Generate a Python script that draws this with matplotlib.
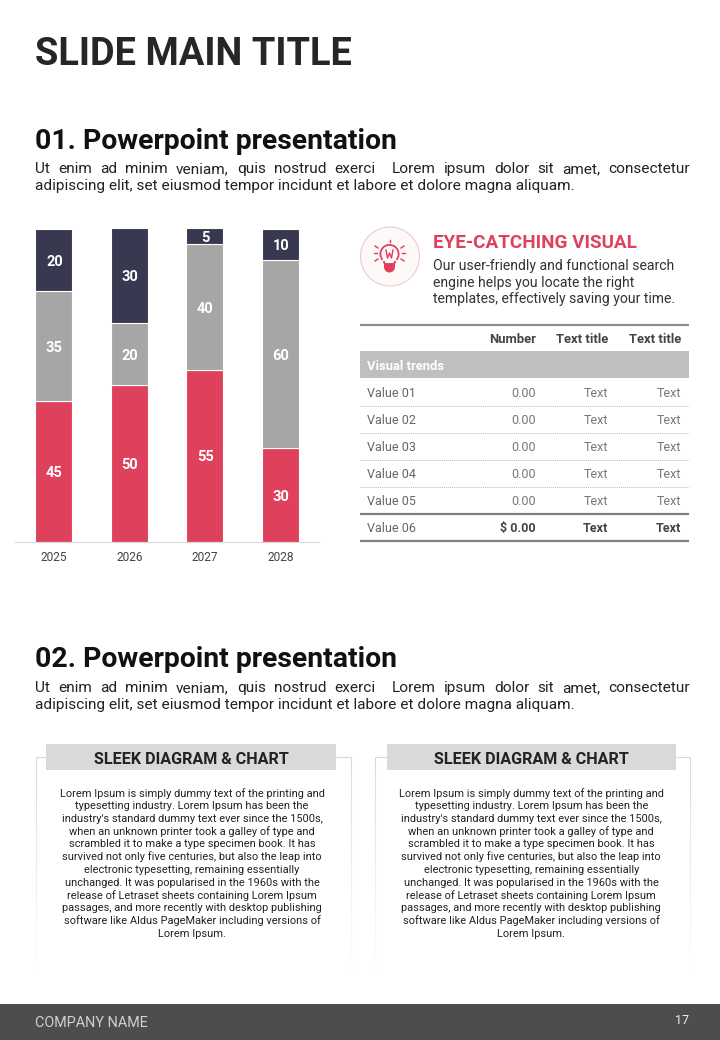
import numpy as np
import matplotlib
matplotlib.use("Agg")
import matplotlib.pyplot as plt
from matplotlib.patches import Rectangle, Circle, Wedge
from matplotlib.collections import LineCollection

plt.rcParams['font.family'] = ['Roboto', 'DejaVu Sans']

years = ['2025', '2026', '2027', '2028']
red_values = [45, 50, 55, 30]
gray_values = [35, 20, 40, 60]
navy_values = [20, 30, 5, 10]
RED, GRAY, NAVY = '#DF415C', '#A6A6A6', '#383950'
DARK = '#222222'

heading = '01. Powerpoint presentation'
heading2 = '02. Powerpoint presentation'
para_lines = ['Ut enim ad minim veniam, quis nostrud exerci  Lorem ipsum dolor sit amet, consectetur',
              'adipiscing elit, set eiusmod tempor incidunt et labore et dolore magna aliquam.']
callout_lines = ['Our user-friendly and functional search', 'engine helps you locate the right',
                 'templates, effectively saving your time.']
table_cols = ['Number', 'Text title', 'Text title']
table_rows = [['Value 01', '0.00', 'Text', 'Text'], ['Value 02', '0.00', 'Text', 'Text'],
              ['Value 03', '0.00', 'Text', 'Text'], ['Value 04', '0.00', 'Text', 'Text'],
              ['Value 05', '0.00', 'Text', 'Text'], ['Value 06', '$ 0.00', 'Text', 'Text']]
lorem_lines = ["Lorem Ipsum is simply dummy text of the printing and",
               "typesetting industry. Lorem Ipsum has been the",
               "industry's standard dummy text ever since the 1500s,",
               "when an unknown printer took a galley of type and",
               "scrambled it to make a type specimen book. It has",
               "survived not only five centuries, but also the leap into",
               "electronic typesetting, remaining essentially",
               "unchanged. It was popularised in the 1960s with the",
               "release of Letraset sheets containing Lorem Ipsum",
               "passages, and more recently with desktop publishing",
               "software like Aldus PageMaker including versions of",
               "Lorem Ipsum."]

W, H = 720, 1040
fig = plt.figure(figsize=(7.2, 10.4), dpi=100, facecolor='white')
bg = fig.add_axes([0, 0, 1, 1])
bg.set_xlim(0, W); bg.set_ylim(H, 0); bg.axis('off')


def T(x, y, s, size, color=DARK, weight='normal', ha='left', va='center'):
    return bg.text(x, y + size * 0.1, s, fontsize=size, color=color, fontweight=weight, ha=ha, va=va)


def justify(x0, x1, y, line, size, color=DARK):
    r = fig.canvas.get_renderer()
    parts = line.split(' ')
    words = [p for p in parts if p]
    arts = [T(0, y, w, size, color) for w in words]
    widths = [a.get_window_extent(r).width for a in arts]
    gap = (x1 - x0 - sum(widths)) / (len(parts) - 1)
    x = x0
    idx = 0
    for p in parts:
        if p:
            arts[idx].set_x(x)
            x += widths[idx]
            idx += 1
        x += gap


def hline(x0, x1, y, **kw):
    bg.plot([x0, x1], [y, y], solid_capstyle='butt', dash_capstyle='butt', **kw)


# Titles and paragraphs
T(35, 52, 'SLIDE MAIN TITLE', 27.4, '#262626', 'bold')
for hy, text, py in [(139, heading, 168), (657, heading2, 687)]:
    T(35, hy, text, 20.4, '#111111', 'bold')
    justify(35, 690, py, para_lines[0], 11.05)
    T(35, py + 17, para_lines[1], 11.05)

# Stacked bar chart
ax = fig.add_axes([15.4 / W, 1 - 542 / H, 303.6 / W, 313.5 / H])
x = np.arange(len(years))
red, gray, navy = map(np.array, (red_values, gray_values, navy_values))
for vals, bottom, col in [(red, 0 * red, RED), (gray, red, GRAY), (navy, red + gray, NAVY)]:
    ax.bar(x, vals, 0.49, bottom=bottom, color=col, edgecolor='white', linewidth=0.8)
    for xi, v, b in zip(x, vals, bottom):
        ax.annotate(str(v), (xi, b + v / 2), xytext=(0.3, -1.2), textcoords='offset points',
                    ha='center', va='center', color='white', fontsize=10.5, fontweight='bold')
ax.set_xlim(-0.511, 3.511)
ax.set_ylim(0, 100)
ax.set_xticks(x, years)
ax.set_yticks([])
ax.tick_params(axis='x', length=0, pad=6.2, labelsize=8.6, labelcolor='#444444')
for s in ['top', 'left', 'right']:
    ax.spines[s].set_visible(False)
ax.spines['bottom'].set_color('#D9D9D9')
ax.patch.set_alpha(0)

# Callout icon
bg.add_patch(Circle((390, 256.5), 29.5, fc='#FEF9F9', ec='#F2C8CE', lw=0.8))
bg.add_patch(Wedge((389.5, 254), 10, 140, 40, width=1.8, fc=RED, ec='none'))
bg.add_patch(Rectangle((384, 264), 11, 3, fc=RED, ec='none'))
bg.add_patch(Wedge((389.5, 267), 5.5, 0, 180, fc=RED, ec='none'))
bg.plot([386, 387.5, 389.5, 391.5, 393], [250, 258, 253, 258, 250], color=RED, lw=1)
bg.plot([384, 385, 394, 395], [262, 264, 264, 262], color=RED, lw=1.4)
for (xa, ya, xb, yb) in [(374, 253, 377, 253), (402, 253, 405, 253), (375, 246, 378, 248),
                         (404, 246, 401, 248), (375, 261, 378, 259), (404, 261, 401, 259),
                         (389.5, 240, 389.5, 242)]:
    bg.plot([xa, xb], [ya, yb], color=RED, lw=1)

T(433, 241.5, 'EYE-CATCHING VISUAL', 13.6, RED, 'bold')
for yy, line in zip([265, 281.5, 298], callout_lines):
    T(433, yy, line, 10.1, '#333333')

# Table
L, R = 360, 689
hline(L, R, 324.5, color='#8C8C8C', lw=1.6)
col_x = [536, 608, 681]
for cx, c in zip(col_x, table_cols):
    T(cx, 338.5, c, 9.4, '#444444', 'bold', ha='right')
bg.add_patch(Rectangle((L, 351), R - L, 27, fc='#BFBFBF', ec='none'))
T(367, 365.5, 'Visual trends', 9.4, 'white', 'bold')
row_y = [392.5, 419.5, 446.5, 473.5, 500.5, 527.5]
for i, (ry, row) in enumerate(zip(row_y, table_rows)):
    last = i == len(table_rows) - 1
    T(367, ry, row[0], 9, '#666666')
    for cx, c in zip(col_x, row[1:]):
        T(cx, ry, c, 9, '#444444' if last else '#777777', 'bold' if last else 'normal', ha='right')
    if i < 4:
        hline(L, R, ry + 13, color='#BBBBBB', lw=0.7, ls=(0, (1, 1)))
hline(L, R, 513.5, color='#808080', lw=1.6)
hline(L, R, 541, color='#808080', lw=1.6)


# Bottom cards
def card(x0, x1, hx0, hx1):
    hline(x0, hx0, 757, color='#D9D9D9', lw=0.8)
    hline(hx1, x1, 757, color='#D9D9D9', lw=0.8)
    ys = np.linspace(757, 976, 60)
    for xx in (x0, x1):
        segs = [[(xx, a), (xx, b)] for a, b in zip(ys[:-1], ys[1:])]
        cols = [(c, c, c) for c in np.linspace(0.85, 1, 59)]
        bg.add_collection(LineCollection(segs, colors=cols, linewidths=0.8))
    bg.add_patch(Rectangle((hx0, 744), hx1 - hx0, 26, fc='#D9D9D9', ec='none'))
    T((hx0 + hx1) / 2, 758, 'SLEEK DIAGRAM & CHART', 11.6, '#222222', 'bold', ha='center')
    for k, line in enumerate(lorem_lines):
        T((x0 + x1) / 2 - 1, 792.5 + k * 12.75, line, 7.95, '#222222', ha='center')


card(35.5, 350.5, 46, 336)
card(374.5, 690, 387, 676)

# Footer
bg.add_patch(Rectangle((0, 1004), W, 36, fc='#4D4D4D', ec='none'))
T(35, 1021.5, 'COMPANY NAME', 10.4, '#D0D0D0')
T(682, 1020, '17', 9, '#EEEEEE', ha='center')

fig.savefig('out.png', dpi=100)
